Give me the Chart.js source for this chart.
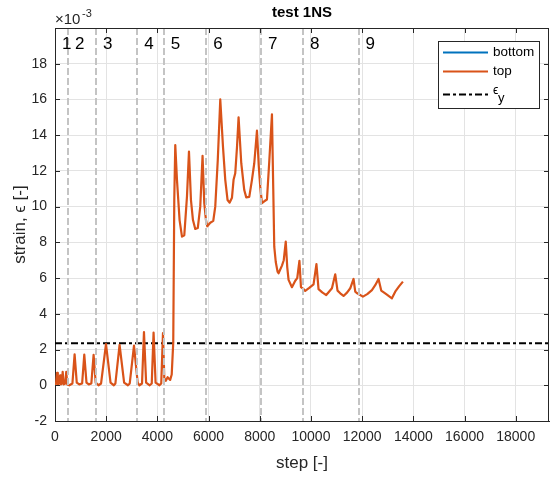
<!doctype html>
<html lang="en">
  <head>
    <meta charset="UTF-8">
    <title>test 1NS</title>
    <style>
      html, body { margin: 0; padding: 0; background: #fff; }
      #wrap { width: 550px; height: 478px; }
    </style>
  </head>
  <body>
    <div id="wrap"><canvas id="myChart"></canvas></div>
    <script src="https://cdn.jsdelivr.net/npm/chart.js@4.4.1/dist/chart.umd.min.js"></script>
    <script>
    // Data-----
    const topStep = [
      0, 40, 80, 110, 160, 200, 230, 270, 300, 340, 400, 440, 480,
      560, 680, 766, 850, 950, 1060, 1144, 1230, 1320, 1420, 1508, 1590,
      1700, 1800, 1992, 2170, 2300, 2360, 2523, 2700, 2850, 2920, 3086, 3230,
      3300, 3400, 3476, 3560, 3700, 3780, 3851, 3930, 4080, 4150, 4219, 4270, 4330, 4400, 4500, 4560, 4620, 4660, 4699,
      4765, 4867, 4961, 5051, 5156, 5234, 5312, 5390, 5480, 5578, 5675, 5765, 5832, 5898,
      5949, 6066, 6183, 6261, 6359, 6457, 6562, 6652, 6742, 6820, 6914, 6976, 7042, 7109, 7172,
      7277, 7394, 7472, 7590, 7695, 7785, 7890, 7960, 8019, 8085,
      8175, 8281, 8370, 8476, 8527, 8566, 8625, 8695, 8734, 8867, 8937, 9015, 9074, 9125, 9257, 9386, 9464, 9550, 9609,
      9699, 9777, 9933, 10101, 10214, 10296, 10441, 10597, 10714, 10820, 10949, 11038, 11144, 11273, 11417, 11535, 11664, 11730, 11808,
      12031, 12199, 12382, 12511, 12640, 12745, 12941, 13163, 13292, 13448, 13593
    ];
    const topStrain = [
      0.0, 0.1, 0.7, 0.05, 0.1, 0.55, 0.05, 0.1, 0.75, 0.05, 0.1, 0.75, 0.05,
      0.0, 0.1, 1.73, 0.15, 0.05, 0.1, 1.72, 0.15, 0.05, 0.1, 1.7, 0.15,
      0.0, 0.1, 2.3, 0.15, 0.0, 0.1, 2.26, 0.15, 0.0, 0.1, 2.22, 0.15,
      0.0, 0.1, 2.98, 0.15, 0.0, 0.1, 2.95, 0.15, 0.0, 0.1, 2.92, 0.4, 0.25, 0.45, 0.3, 0.6, 2.4, 10.4, 13.45,
      11.5, 9.25, 8.32, 8.4, 10.56, 13.08, 10.37, 9.25, 8.75, 8.8, 10.0, 12.84, 10.19, 9.25,
      8.9, 9.1, 9.2, 10.0, 12.6, 16.0, 13.37, 11.5, 10.37, 10.22, 10.5, 11.5, 11.87, 13.3, 15.0,
      12.43, 10.93, 10.52, 10.55, 11.5, 12.43, 14.25, 12.3, 11.12, 10.2,
      10.3, 10.4, 12.5, 15.17, 11.0, 7.76, 6.9, 6.36, 6.27, 6.7, 7.0, 8.04, 6.6, 5.9, 5.49, 5.85, 6.0, 6.97, 5.5,
      5.4, 5.28, 5.45, 5.65, 6.78, 5.38, 5.2, 5.05, 5.25, 5.43, 6.21, 5.3, 5.15, 5.0, 5.2, 5.43, 5.95, 5.24, 5.15,
      4.96, 5.1, 5.33, 5.6, 5.95, 5.3, 5.1, 4.87, 5.24, 5.55, 5.8
    ];
    const bottomStep = [];
    const bottomStrain = [];
    const epsY = 2.35;
    const phaseStart = [0, 508, 1600, 3215, 4250, 5910, 8050, 9690, 11860];
    const phaseLabels = ['1', '2', '3', '4', '5', '6', '7', '8', '9'];
    const xTicks = [0, 2000, 4000, 6000, 8000, 10000, 12000, 14000, 16000, 18000];
    const yTicks = [-2, 0, 2, 4, 6, 8, 10, 12, 14, 16, 18];
    // Data-----

    const xMin = 0, xMax = 19300, yMin = -2, yMax = 20;
    const labelOffset = 460, labelY = 19.1;
    const font = '"Liberation Sans", Arial, Helvetica, sans-serif';
    const axisColor = '#262626';
    const gridColor = '#e3e3e3';
    const blue = '#0072BD', orange = '#D95319';

    const toPoints = (xs, ys) => xs.map((v, i) => ({x: v, y: ys[i]}));

    // draws the MATLAB-like bits: title, exponent, phase lines, box, legend
    const matlabLook = {
      id: 'matlabLook',
      afterDatasetsDraw(chart) {
        const {ctx, chartArea: a, scales: {x, y}} = chart;
        ctx.save();
        ctx.strokeStyle = '#c4c4c4';
        ctx.lineWidth = 2;
        ctx.setLineDash([7, 3]);
        phaseStart.forEach(s => {
          if (s <= xMin) return;
          const px = Math.round(x.getPixelForValue(s));
          ctx.beginPath();
          ctx.moveTo(px, a.top);
          ctx.lineTo(px, a.bottom);
          ctx.stroke();
        });
        ctx.setLineDash([]);

        ctx.fillStyle = '#000';
        ctx.font = '17px ' + font;
        ctx.textAlign = 'center';
        ctx.textBaseline = 'middle';
        phaseStart.forEach((s, i) => {
          ctx.fillText(phaseLabels[i], x.getPixelForValue(s + labelOffset), y.getPixelForValue(labelY));
        });

        // box + inward ticks
        ctx.strokeStyle = axisColor;
        ctx.lineWidth = 1;
        ctx.beginPath();
        ctx.moveTo(a.left, a.top + 0.5); ctx.lineTo(a.right, a.top + 0.5);
        ctx.moveTo(a.right - 0.5, a.top); ctx.lineTo(a.right - 0.5, a.bottom);
        xTicks.forEach(v => {
          const px = Math.round(x.getPixelForValue(v)) + 0.5;
          ctx.moveTo(px, a.bottom); ctx.lineTo(px, a.bottom - 5);
          ctx.moveTo(px, a.top); ctx.lineTo(px, a.top + 5);
        });
        yTicks.forEach(v => {
          const py = Math.round(y.getPixelForValue(v)) + 0.5;
          ctx.moveTo(a.left, py); ctx.lineTo(a.left + 5, py);
          ctx.moveTo(a.right, py); ctx.lineTo(a.right - 5, py);
        });
        ctx.stroke();

        // title and exponent
        ctx.fillStyle = '#000';
        ctx.font = 'bold 15px ' + font;
        ctx.textAlign = 'center';
        ctx.textBaseline = 'alphabetic';
        ctx.fillText('test 1NS', (a.left + a.right) / 2, 17);
        ctx.fillStyle = axisColor;
        ctx.textAlign = 'left';
        ctx.font = '15px ' + font;
        ctx.fillText('\u00d710', a.left, 24);
        ctx.font = '11px ' + font;
        ctx.fillText('-3', a.left + 27, 17);

        // legend
        const lx = 438.5, ly = 41.5, lw = 101, lh = 67;
        ctx.fillStyle = '#fff';
        ctx.fillRect(lx, ly, lw, lh);
        ctx.strokeStyle = axisColor;
        ctx.strokeRect(lx, ly, lw, lh);
        const rows = [
          {text: 'bottom', color: blue, dash: [], yy: 52.5},
          {text: 'top', color: orange, dash: [], yy: 71.5},
          {text: '\u03f5', sub: 'y', color: '#000', dash: [7, 3, 3, 3], yy: 94.5}
        ];
        rows.forEach(r => {
          ctx.strokeStyle = r.color;
          ctx.lineWidth = 2;
          ctx.setLineDash(r.dash);
          ctx.beginPath();
          ctx.moveTo(443, r.yy); ctx.lineTo(488, r.yy);
          ctx.stroke();
          ctx.setLineDash([]);
          ctx.fillStyle = '#000';
          ctx.textBaseline = 'middle';
          if (r.sub) {
            ctx.font = '12px ' + font;
            ctx.fillText(r.text, 493, r.yy - 4);
            ctx.font = '13px ' + font;
            ctx.fillText(r.sub, 498, r.yy + 4);
          } else {
            ctx.font = '13.5px ' + font;
            ctx.fillText(r.text, 493, r.yy);
          }
        });
        ctx.restore();
      }
    };

    const config = {
      type: 'scatter',
      data: {
        datasets: [
          {
            label: 'bottom',
            data: toPoints(bottomStep, bottomStrain),
            showLine: true, borderColor: blue, borderWidth: 2, pointRadius: 0
          },
          {
            label: 'top',
            data: toPoints(topStep, topStrain),
            showLine: true, borderColor: orange, borderWidth: 2.2, pointRadius: 0,
            borderJoinStyle: 'round', tension: 0
          },
          {
            label: '\u03f5_y',
            data: [{x: xMin, y: epsY}, {x: xMax, y: epsY}],
            showLine: true, borderColor: '#000', borderWidth: 2, pointRadius: 0,
            borderDash: [7, 3, 3, 3]
          }
        ]
      },
      options: {
        responsive: true,
        maintainAspectRatio: false,
        animation: false,
        layout: { padding: { top: 28, right: 1, left: 0, bottom: 0 } },
        plugins: {
          legend: { display: false },
          tooltip: { enabled: false }
        },
        scales: {
          x: {
            type: 'linear', min: xMin, max: xMax,
            afterBuildTicks: s => { s.ticks = xTicks.map(v => ({value: v})); },
            afterFit: s => { s.height = 57; },
            grid: { color: gridColor, drawTicks: false },
            border: { color: axisColor },
            ticks: { padding: 8, color: axisColor, maxRotation: 0, font: { size: 14, family: font }, callback: v => String(v) },
            title: { display: true, text: 'step [-]', color: axisColor, font: { size: 17, family: font }, padding: { bottom: 4 } }
          },
          y: {
            type: 'linear', min: yMin, max: yMax,
            afterBuildTicks: s => { s.ticks = yTicks.map(v => ({value: v})); },
            afterFit: s => { s.width = 55; },
            grid: { color: gridColor, drawTicks: false },
            border: { color: axisColor },
            ticks: { padding: 8, color: axisColor, font: { size: 14, family: font }, callback: v => String(v) },
            title: { display: true, text: 'strain, \u03f5 [-]', color: axisColor, font: { size: 17, family: font }, padding: { top: 10 } }
          }
        }
      },
      plugins: [matlabLook]
    };

    const myChart = new Chart(document.getElementById('myChart'), config);
    </script>
  </body>
</html>
